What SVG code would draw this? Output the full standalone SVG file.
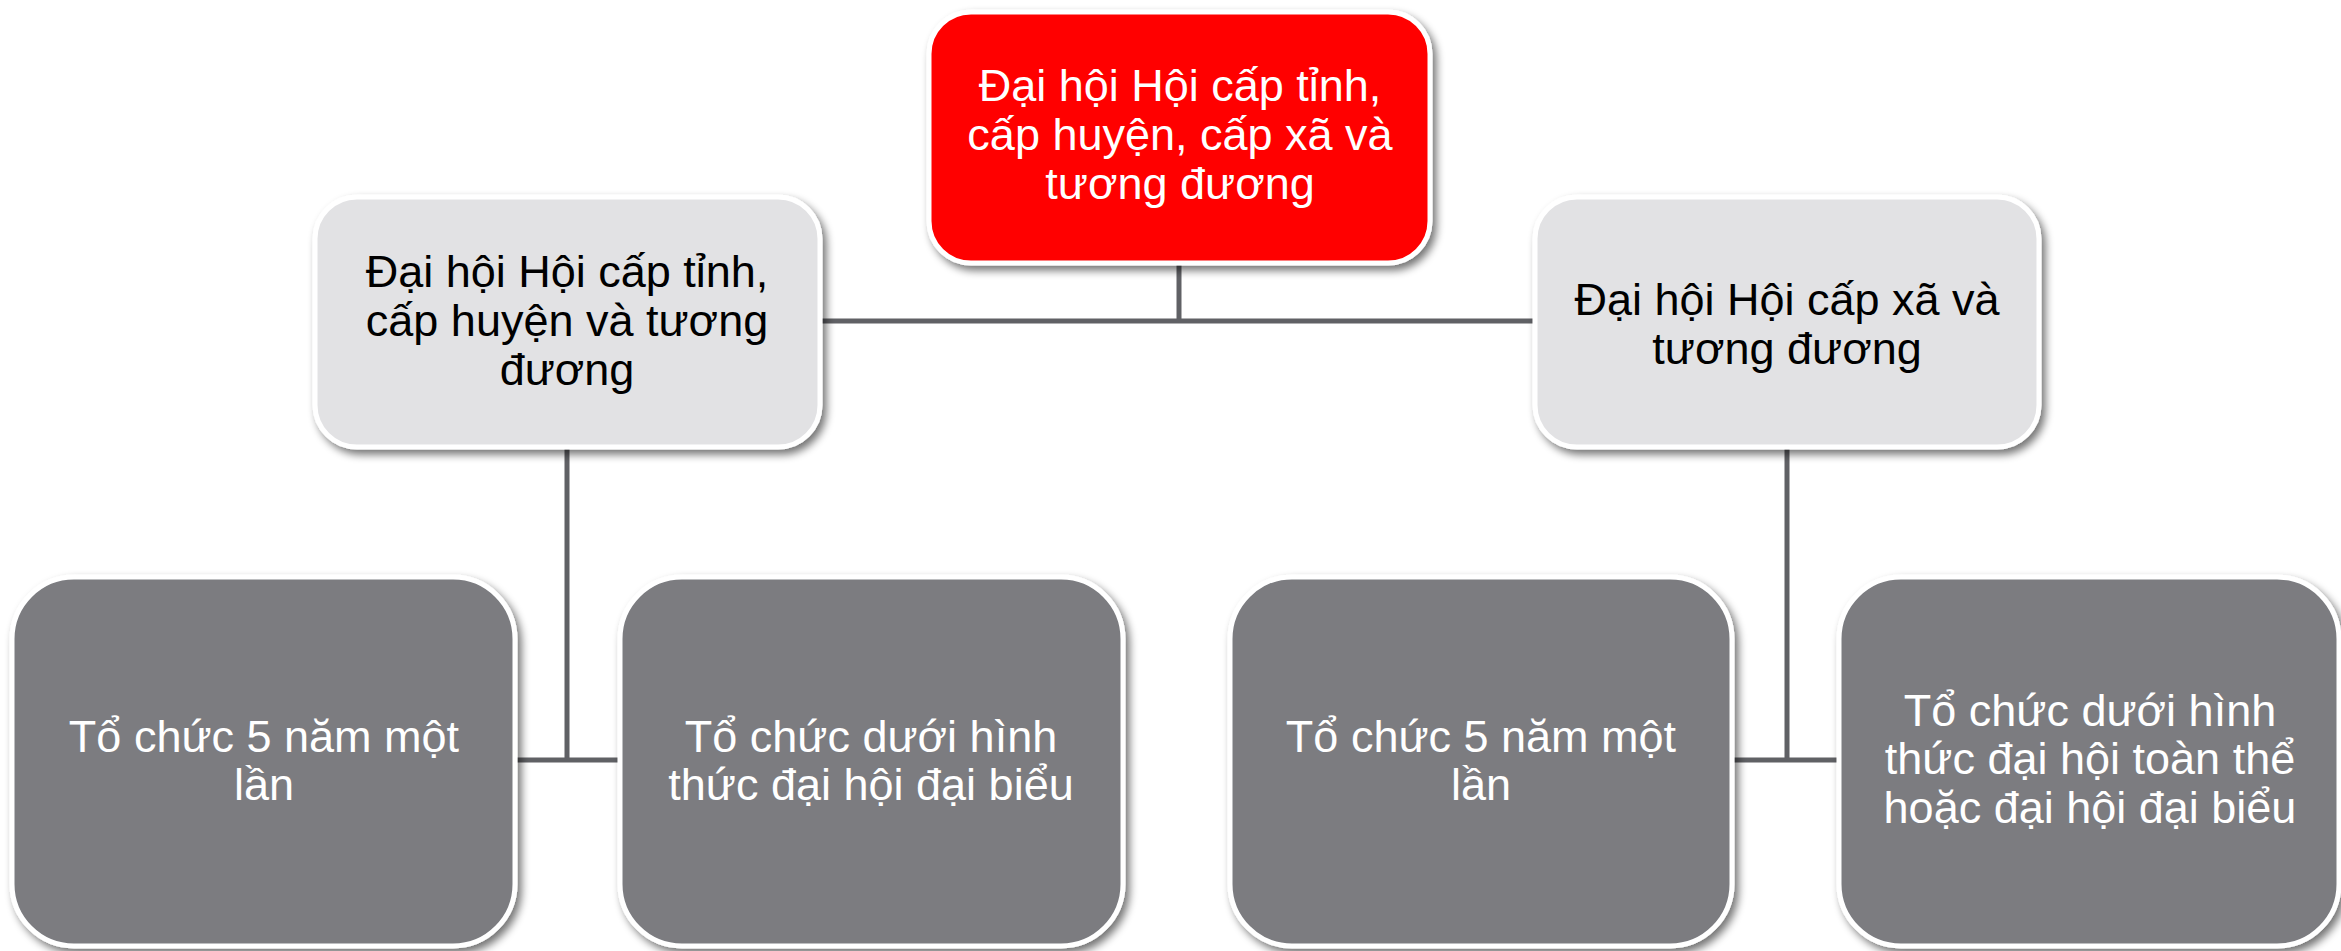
<svg xmlns="http://www.w3.org/2000/svg" width="2341" height="951" viewBox="0 0 2341 951">
  <style>
    .box { stroke: #ffffff; stroke-width: 5; filter: url(#shadow); }
    .top { fill: #ff0000; }
    .mid { fill: #e2e2e4; }
    .leaf { fill: #7b7c80; }
    .lbl { font-family: "Liberation Sans", Arial, sans-serif; font-size: 45px; text-anchor: middle; }
    .dark { fill: #000000; }
    .light { fill: #ffffff; }
    .link { stroke: #606165; stroke-width: 5; fill: none; }
  </style>
  <defs>
    <filter id="shadow" x="-10%" y="-10%" width="125%" height="130%">
      <feGaussianBlur in="SourceAlpha" stdDeviation="4"/>
      <feOffset dx="4" dy="5" result="blur"/>
      <feComponentTransfer><feFuncA type="linear" slope="0.55"/></feComponentTransfer>
      <feMerge><feMergeNode/><feMergeNode in="SourceGraphic"/></feMerge>
    </filter>
  </defs>
  <rect width="2341" height="951" fill="#ffffff"/>

  <g id="connectors">
    <line class="link" x1="1179" y1="262" x2="1179" y2="321"/>
    <line class="link" x1="818" y1="321" x2="1537" y2="321"/>
    <line class="link" x1="567" y1="446" x2="567" y2="760"/>
    <line class="link" x1="513" y1="760" x2="622" y2="760"/>
    <line class="link" x1="1787" y1="446" x2="1787" y2="760"/>
    <line class="link" x1="1730" y1="760" x2="1841" y2="760"/>
  </g>

  <g id="root">
    <rect class="box top" x="929" y="12" width="501" height="251" rx="42"/>
    <text class="lbl light" x="1180" y="101">Đại hội Hội cấp tỉnh,</text>
    <text class="lbl light" x="1180" y="150">cấp huyện, cấp xã và</text>
    <text class="lbl light" x="1180" y="199">tương đương</text>
  </g>

  <g id="province-district">
    <rect class="box mid" x="315" y="197" width="505" height="250" rx="42"/>
    <text class="lbl dark" x="567" y="287">Đại hội Hội cấp tỉnh,</text>
    <text class="lbl dark" x="567" y="336">cấp huyện và tương</text>
    <text class="lbl dark" x="567" y="385">đương</text>
  </g>

  <g id="commune">
    <rect class="box mid" x="1535" y="197" width="504" height="250" rx="42"/>
    <text class="lbl dark" x="1787" y="315">Đại hội Hội cấp xã và</text>
    <text class="lbl dark" x="1787" y="364">tương đương</text>
  </g>

  <g id="pd-term">
    <rect class="box leaf" x="12" y="577" width="503" height="369" rx="62"/>
    <text class="lbl light" x="264" y="752">Tổ chức 5 năm một</text>
    <text class="lbl light" x="264" y="800">lần</text>
  </g>

  <g id="pd-form">
    <rect class="box leaf" x="620" y="577" width="503" height="369" rx="62"/>
    <text class="lbl light" x="871" y="752">Tổ chức dưới hình</text>
    <text class="lbl light" x="871" y="800">thức đại hội đại biểu</text>
  </g>

  <g id="commune-term">
    <rect class="box leaf" x="1230" y="577" width="502" height="369" rx="62"/>
    <text class="lbl light" x="1481" y="752">Tổ chức 5 năm một</text>
    <text class="lbl light" x="1481" y="800">lần</text>
  </g>

  <g id="commune-form">
    <rect class="box leaf" x="1839" y="577" width="500" height="369" rx="62"/>
    <text class="lbl light" x="2090" y="726">Tổ chức dưới hình</text>
    <text class="lbl light" x="2090" y="774">thức đại hội toàn thể</text>
    <text class="lbl light" x="2090" y="823">hoặc đại hội đại biểu</text>
  </g>
</svg>
